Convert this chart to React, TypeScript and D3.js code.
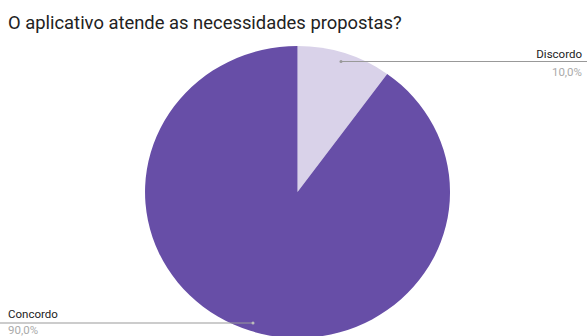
import React from "react";
import * as d3 from "d3";

const categories = ["Discordo", "Concordo"];
const values = [10, 90];
const percentLabels = ["10,0%", "90,0%"];
const colors = ["#d9d2e9", "#674ea7"];
const title = "O aplicativo atende as necessidades propostas?";

export default function App() {
  const W = 587, H = 336;
  const cx = 297.5, cy = 192, rx = 152.5, ry = 146;
  const pie = d3.pie<number>().sort(null).value((d) => d);
  const arcs = pie(values);
  const arc = d3.arc<d3.PieArcDatum<number>>().innerRadius(0).outerRadius(1);
  return (
    <svg width={W} height={H} style={{ position: "absolute", left: 0, top: 0, fontFamily: "Roboto, sans-serif" }}>
      <rect width={W} height={H} fill="#fff" />
      <text x={8} y={29} fontSize={18.4} fill="#222">{title}</text>
      <g transform={`translate(${cx},${cy}) scale(${rx},${ry})`}>
        {arcs.map((a, i) => (
          <path key={i} d={arc(a) || ""} fill={colors[i]} />
        ))}
      </g>
      {arcs.map((a, i) => {
        if (i === 0) {
          const px = 341, py = 61.5;
          return (
            <g key={i}>
              <line x1={px} y1={py} x2={W} y2={py} stroke="#999" strokeWidth={1} />
              <circle cx={px} cy={py} r={1.5} fill="#999" />
              <text x={582} y={58} textAnchor="end" fontSize={11.5} fill="#222">{categories[i]}</text>
              <text x={582} y={76} textAnchor="end" fontSize={11.5} fill="#aaa">{percentLabels[i]}</text>
            </g>
          );
        } else {
          const px = 253, py = 323;
          return (
            <g key={i}>
              <line x1={0} y1={py} x2={px} y2={py} stroke="#999" strokeWidth={1} />
              <circle cx={px} cy={py} r={1.5} fill="#bbb" />
              <text x={8} y={318} fontSize={11.5} fill="#222">{categories[i]}</text>
              <text x={8} y={333.5} fontSize={11.5} fill="#aaa">{percentLabels[i]}</text>
            </g>
          );
        }
      })}
    </svg>
  );
}
